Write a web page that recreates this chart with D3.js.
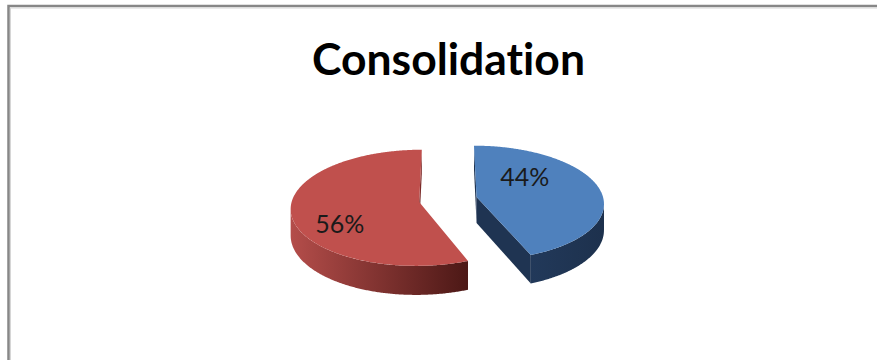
<!DOCTYPE html>
<html><head><meta charset="utf-8">
<script src="https://cdn.jsdelivr.net/npm/d3@7"></script>
<style>html,body{margin:0;padding:0;background:#fff;}svg{display:block}text{font-variant-ligatures:none;font-feature-settings:"liga" 0,"clig" 0;}</style>
</head><body>
<svg id="chart" width="877" height="360"></svg>
<script>
const title = "Consolidation";
const categories = ["Category 1", "Category 2"];
const values = [44, 56];
const topColors = ["#4f81bd", "#c0504d"];
const sideLight = ["#22395a", "#b44d4a"];
const sideDark = ["#1d314d", "#4c1816"];
const cutColors = ["#1f3452", "#7a2a28"];

const W = 877, H = 360;
const svg = d3.select("#chart");
svg.append("rect").attr("width", W).attr("height", H).attr("fill", "#fff");

// frame (extends beyond right/bottom edges)
svg.append("path").attr("d", `M8.5,${H + 5} V6 H${W + 5}`)
  .attr("fill", "none").attr("stroke", "#878787").attr("stroke-width", 2.5);
svg.append("path").attr("d", `M10.5,${H + 5} V8 H${W + 5}`)
  .attr("fill", "none").attr("stroke", "#d6d6d6").attr("stroke-width", 1);

// title
svg.append("text").text(title)
  .attr("x", 448.5).attr("y", 75)
  .attr("text-anchor", "middle")
  .attr("font-family", "Lato, 'Open Sans', sans-serif")
  .attr("font-weight", 700).attr("font-size", 44)
  .attr("textLength", 273).attr("lengthAdjust", "spacingAndGlyphs")
  .attr("fill", "#000");

// 3D pie projection
const cx = 448, cy = 199.5, kx = 127, ky = 57, T = 26, persp = 0.1, explode = 0.23;
function proj(X, Z, h) {
  const f = 1 / (1 - persp * Z);
  return [cx + kx * X * f, cy + (ky * Z + T * h) * f];
}
const arcs = d3.pie().sort(null).value(d => d)(values);
const total = d3.sum(values);
const line = d3.line();
const defs = svg.append("defs");
const step = Math.PI / 360;

function range(a, b) {
  const out = [];
  const n = Math.max(2, Math.ceil((b - a) / step));
  for (let i = 0; i <= n; i++) out.push(a + (b - a) * i / n);
  return out;
}
function area(pts) {
  let s = 0;
  for (let i = 0; i < pts.length; i++) {
    const p = pts[i], q = pts[(i + 1) % pts.length];
    s += p[0] * q[1] - q[0] * p[1];
  }
  return s / 2;
}

const labels = [];
arcs.forEach((d, i) => {
  const a0 = d.startAngle, a1 = d.endAngle, mid = (a0 + a1) / 2;
  const ox = explode * Math.sin(mid), oz = -explode * Math.cos(mid);
  const rim = (t, h) => proj(ox + Math.sin(t), oz - Math.cos(t), h);
  const ctr = h => proj(ox, oz, h);
  const g = svg.append("g");

  // cut faces
  const faces = [
    [ctr(0), rim(a0, 0), rim(a0, 1), ctr(1)],
    [ctr(1), rim(a1, 1), rim(a1, 0), ctr(0)]
  ];
  faces.forEach(f => {
    if (area(f) < 0) g.append("path").attr("d", line(f) + "Z").attr("fill", cutColors[i]);
  });

  // visible outer side: between horizontal extremes, through the front
  let tR = 0, tL = 0, maxX = -1e9, minX = 1e9;
  for (let k = 0; k < 1440; k++) {
    const t = k * Math.PI / 720;
    const x = rim(t, 0)[0];
    if (x > maxX) { maxX = x; tR = t; }
    if (x < minX) { minX = x; tL = t; }
  }
  const s0 = Math.max(a0, tR), s1 = Math.min(a1, tL);
  if (s1 > s0) {
    const ts = range(s0, s1);
    const pts = ts.map(t => rim(t, 0)).concat(ts.slice().reverse().map(t => rim(t, 1)));
    const xs = pts.map(p => p[0]);
    const gid = "side" + i;
    const lg = defs.append("linearGradient").attr("id", gid)
      .attr("gradientUnits", "userSpaceOnUse")
      .attr("x1", d3.min(xs)).attr("x2", d3.max(xs)).attr("y1", 0).attr("y2", 0);
    lg.append("stop").attr("offset", 0).attr("stop-color", sideLight[i]);
    lg.append("stop").attr("offset", 1).attr("stop-color", sideDark[i]);
    g.append("path").attr("d", line(pts) + "Z").attr("fill", `url(#${gid})`);
  }

  // top face
  const top = [ctr(0)].concat(range(a0, a1).map(t => rim(t, 0)));
  g.append("path").attr("d", line(top) + "Z").attr("fill", topColors[i]);

  // label position
  const la = mid - 0.44, lr = 0.62;
  const p = proj(ox + lr * Math.sin(la), oz - lr * Math.cos(la), 0);
  labels.push({ x: p[0] - 12, y: p[1] + 9, text: Math.round(values[i] / total * 100) + "%" });
});

svg.append("g").selectAll("text").data(labels).join("text")
  .attr("x", d => d.x).attr("y", d => d.y)
  .attr("text-anchor", "middle")
  .attr("font-family", "Lato, 'Open Sans', sans-serif")
  .attr("font-size", 25).attr("fill", "#1a1a1a")
  .text(d => d.text);
</script>
</body></html>
